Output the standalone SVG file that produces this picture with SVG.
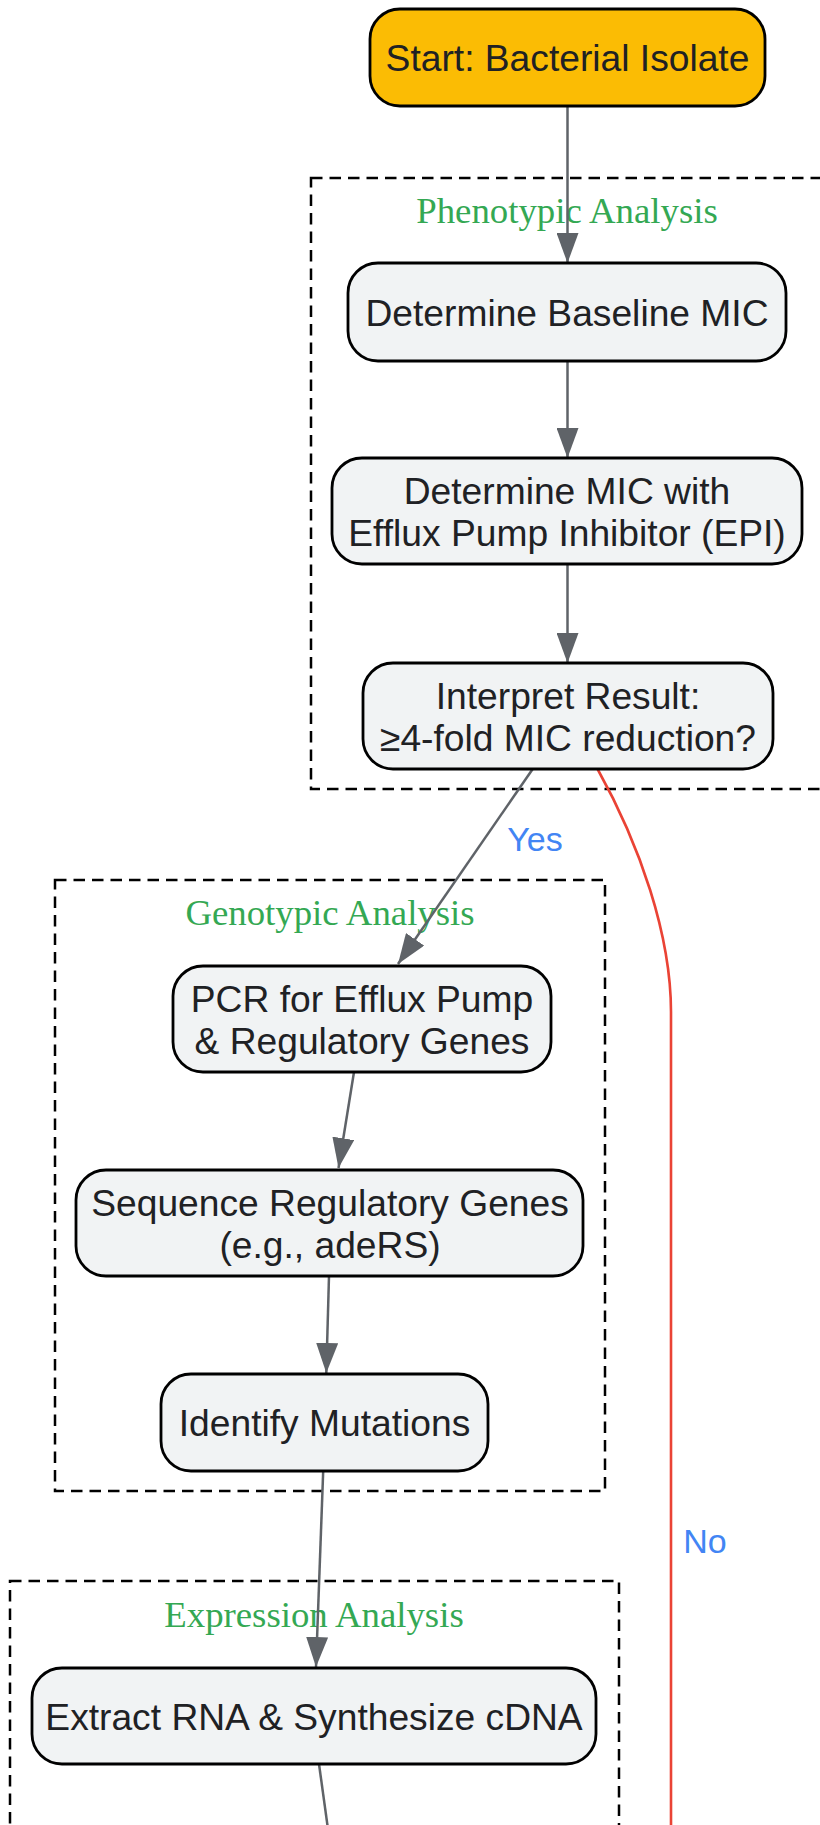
<svg xmlns="http://www.w3.org/2000/svg" width="820" height="1825" viewBox="0 0 820 1825">
<style>
.cluster{fill:none;stroke:#000;stroke-width:2.5;stroke-dasharray:11.5 7}
.ctitle{font-family:"Liberation Serif",serif;font-size:36.8px;fill:#34a853;text-anchor:middle}
.node{fill:#f1f3f4;stroke:#000;stroke-width:2.8}
.start{fill:#fbbc04;stroke:#000;stroke-width:2.8}
.lbl{font-family:"Liberation Sans",Arial,sans-serif;font-size:37.2px;fill:#202124;text-anchor:middle}
.edge{fill:none;stroke:#5f6368;stroke-width:2.5}
.no{fill:none;stroke:#ea4335;stroke-width:2.6}
.elbl{font-family:"Liberation Sans",Arial,sans-serif;font-size:34px;fill:#4285f4;text-anchor:middle}
</style>
<defs>
<marker id="arr" markerUnits="userSpaceOnUse" markerWidth="30" markerHeight="22" refX="30" refY="11" orient="auto">
<path d="M0,0 L30,11 L0,22 z" fill="#5f6368"/>
</marker>
</defs>
<g id="clusters">
<g id="phenotypic">
<rect class="cluster" x="311" y="178" width="513" height="611"/>
<text class="ctitle" x="567" y="223">Phenotypic Analysis</text>
</g>
<g id="genotypic">
<rect class="cluster" x="55" y="880" width="550" height="611"/>
<text class="ctitle" x="330" y="925">Genotypic Analysis</text>
</g>
<g id="expression">
<rect class="cluster" x="10" y="1581" width="609" height="280"/>
<text class="ctitle" x="314" y="1627">Expression Analysis</text>
</g>
</g>
<g id="connectors">
<line class="edge" x1="567.5" y1="106" x2="567.5" y2="263" marker-end="url(#arr)"/>
<line class="edge" x1="567.5" y1="361" x2="567.5" y2="458" marker-end="url(#arr)"/>
<line class="edge" x1="567.5" y1="564" x2="567.5" y2="663" marker-end="url(#arr)"/>
<line class="edge" x1="532.7" y1="769" x2="398" y2="964" marker-end="url(#arr)"/>
<path class="no" d="M597,768 C640,845 671,935 671,1012 L671,1830"/>
<line class="edge" x1="354" y1="1072" x2="338.5" y2="1168" marker-end="url(#arr)"/>
<line class="edge" x1="329" y1="1276" x2="326.3" y2="1373" marker-end="url(#arr)"/>
<line class="edge" x1="323.2" y1="1471" x2="316" y2="1667" marker-end="url(#arr)"/>
<line class="edge" x1="319" y1="1764" x2="329.5" y2="1840"/>
<text class="elbl" x="535" y="851">Yes</text>
<text class="elbl" x="705" y="1553">No</text>
</g>
<g id="start">
<rect class="start" x="370" y="9" width="395" height="97" rx="30"/>
<text class="lbl" x="567.5" y="71">Start: Bacterial Isolate</text>
</g>
<g id="baseline">
<rect class="node" x="348" y="263" width="438" height="98" rx="30"/>
<text class="lbl" x="567" y="326">Determine Baseline MIC</text>
</g>
<g id="epi">
<rect class="node" x="332" y="458" width="470" height="106" rx="30"/>
<text class="lbl" x="567" y="504">Determine MIC with</text>
<text class="lbl" x="567" y="546">Efflux Pump Inhibitor (EPI)</text>
</g>
<g id="interpret">
<rect class="node" x="363" y="663" width="410" height="106" rx="30"/>
<text class="lbl" x="568" y="709">Interpret Result:</text>
<text class="lbl" x="568" y="751">≥4-fold MIC reduction?</text>
</g>
<g id="pcr">
<rect class="node" x="173" y="966" width="378" height="106" rx="30"/>
<text class="lbl" x="362" y="1012">PCR for Efflux Pump</text>
<text class="lbl" x="362" y="1054">&amp; Regulatory Genes</text>
</g>
<g id="sequence">
<rect class="node" x="76" y="1170" width="507" height="106" rx="30"/>
<text class="lbl" x="330" y="1216">Sequence Regulatory Genes</text>
<text class="lbl" x="330" y="1258">(e.g., adeRS)</text>
</g>
<g id="identify">
<rect class="node" x="161" y="1374" width="327" height="97" rx="30"/>
<text class="lbl" x="324.5" y="1436">Identify Mutations</text>
</g>
<g id="extract">
<rect class="node" x="32" y="1668" width="564" height="96" rx="30"/>
<text class="lbl" x="314" y="1730">Extract RNA &amp; Synthesize cDNA</text>
</g>
</svg>
